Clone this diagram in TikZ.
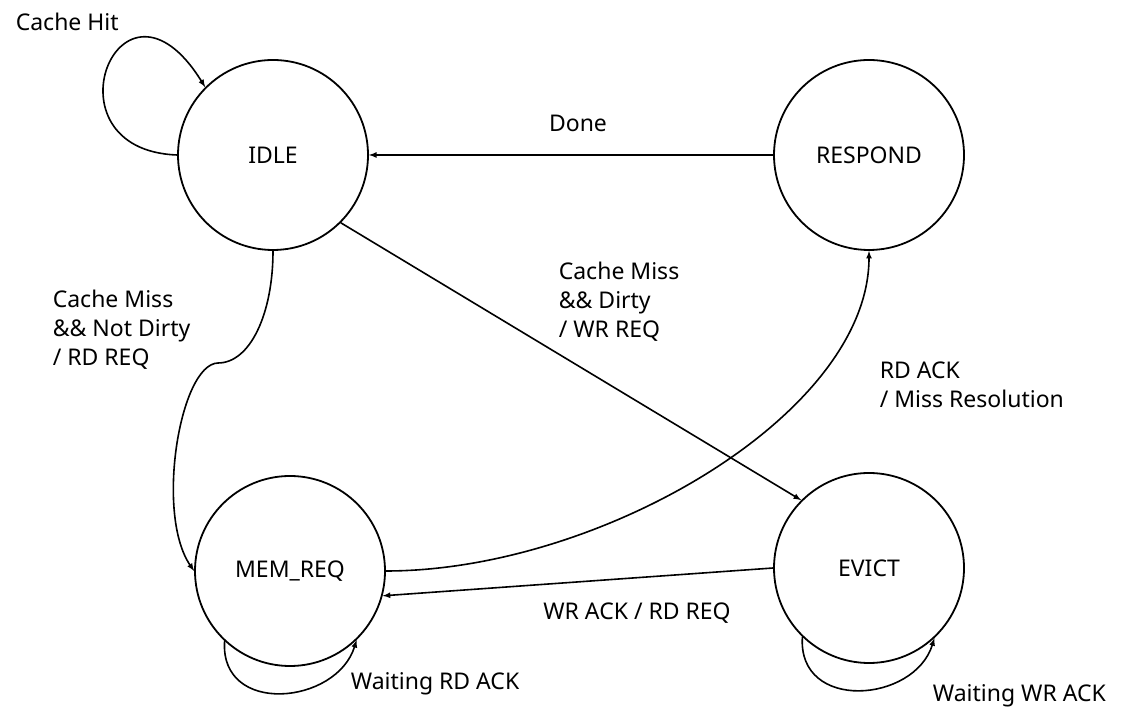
\documentclass[tikz,border=0pt]{standalone}
\usepackage{fontspec}
\setmainfont{Noto Sans}
\usepackage{tikz}

\begin{document}
\begin{tikzpicture}[-latex, x=1pt, y=1pt,
line width=1.6pt,
font=\fontsize{23}{29}\selectfont,
state/.style = {shape=circle, draw, line width=1.8pt, minimum size=190pt,
  inner sep=0pt, color=black},
note/.style = {inner sep=0pt, align=left, text=black}
]
\useasboundingbox (0,0) rectangle (1142,714);

\node [state] (idle) at (273,559) {IDLE};
\node [state] (respond) at (869,559) {RESPOND};
\node [state] (memreq) at (290,143) {MEM\_REQ};
\node [state] (evict) at (869,146) {EVICT};

\draw (idle.west) .. controls (40,564) and (120,764) .. (idle.135);
\node [note, anchor=base west] (hit) at (15,683) {Cache Hit};

\draw (respond.west) -- (idle.east);
\node [note, anchor=base] (done) at (578,582) {Done};

\draw (idle.-45) -- (evict.135);
\node [note, anchor=north west] (dirty) at (558,453)
  {Cache Miss\\\&\& Dirty\\/ WR REQ};

\draw (idle.south) .. controls (273,400) and (250,351) .. (218,351)
  .. controls (180,350) and (155,200) .. (memreq.west);
\node [note, anchor=north west] (clean) at (52,425)
  {Cache Miss\\\&\& Not Dirty\\/ RD REQ};

\draw (memreq.east) .. controls (600,143) and (869,300) .. (respond.south);
\node [note, anchor=north west] (rdack) at (879,353)
  {RD ACK\\/ Miss Resolution};

\draw (evict.west) -- (memreq.-15);
\node [note, anchor=base] (wrack) at (637,94) {WR ACK / RD REQ};

\draw (memreq.-133) .. controls +(-5,-75) and +(-20,-65) .. (memreq.-46);
\node [note, anchor=base west] (waitrd) at (350,24) {Waiting RD ACK};

\draw (evict.-134) .. controls +(-5,-75) and +(-20,-65) .. (evict.-47);
\node [note, anchor=base west] (waitwr) at (932,12) {Waiting WR ACK};

\end{tikzpicture}
\end{document}
